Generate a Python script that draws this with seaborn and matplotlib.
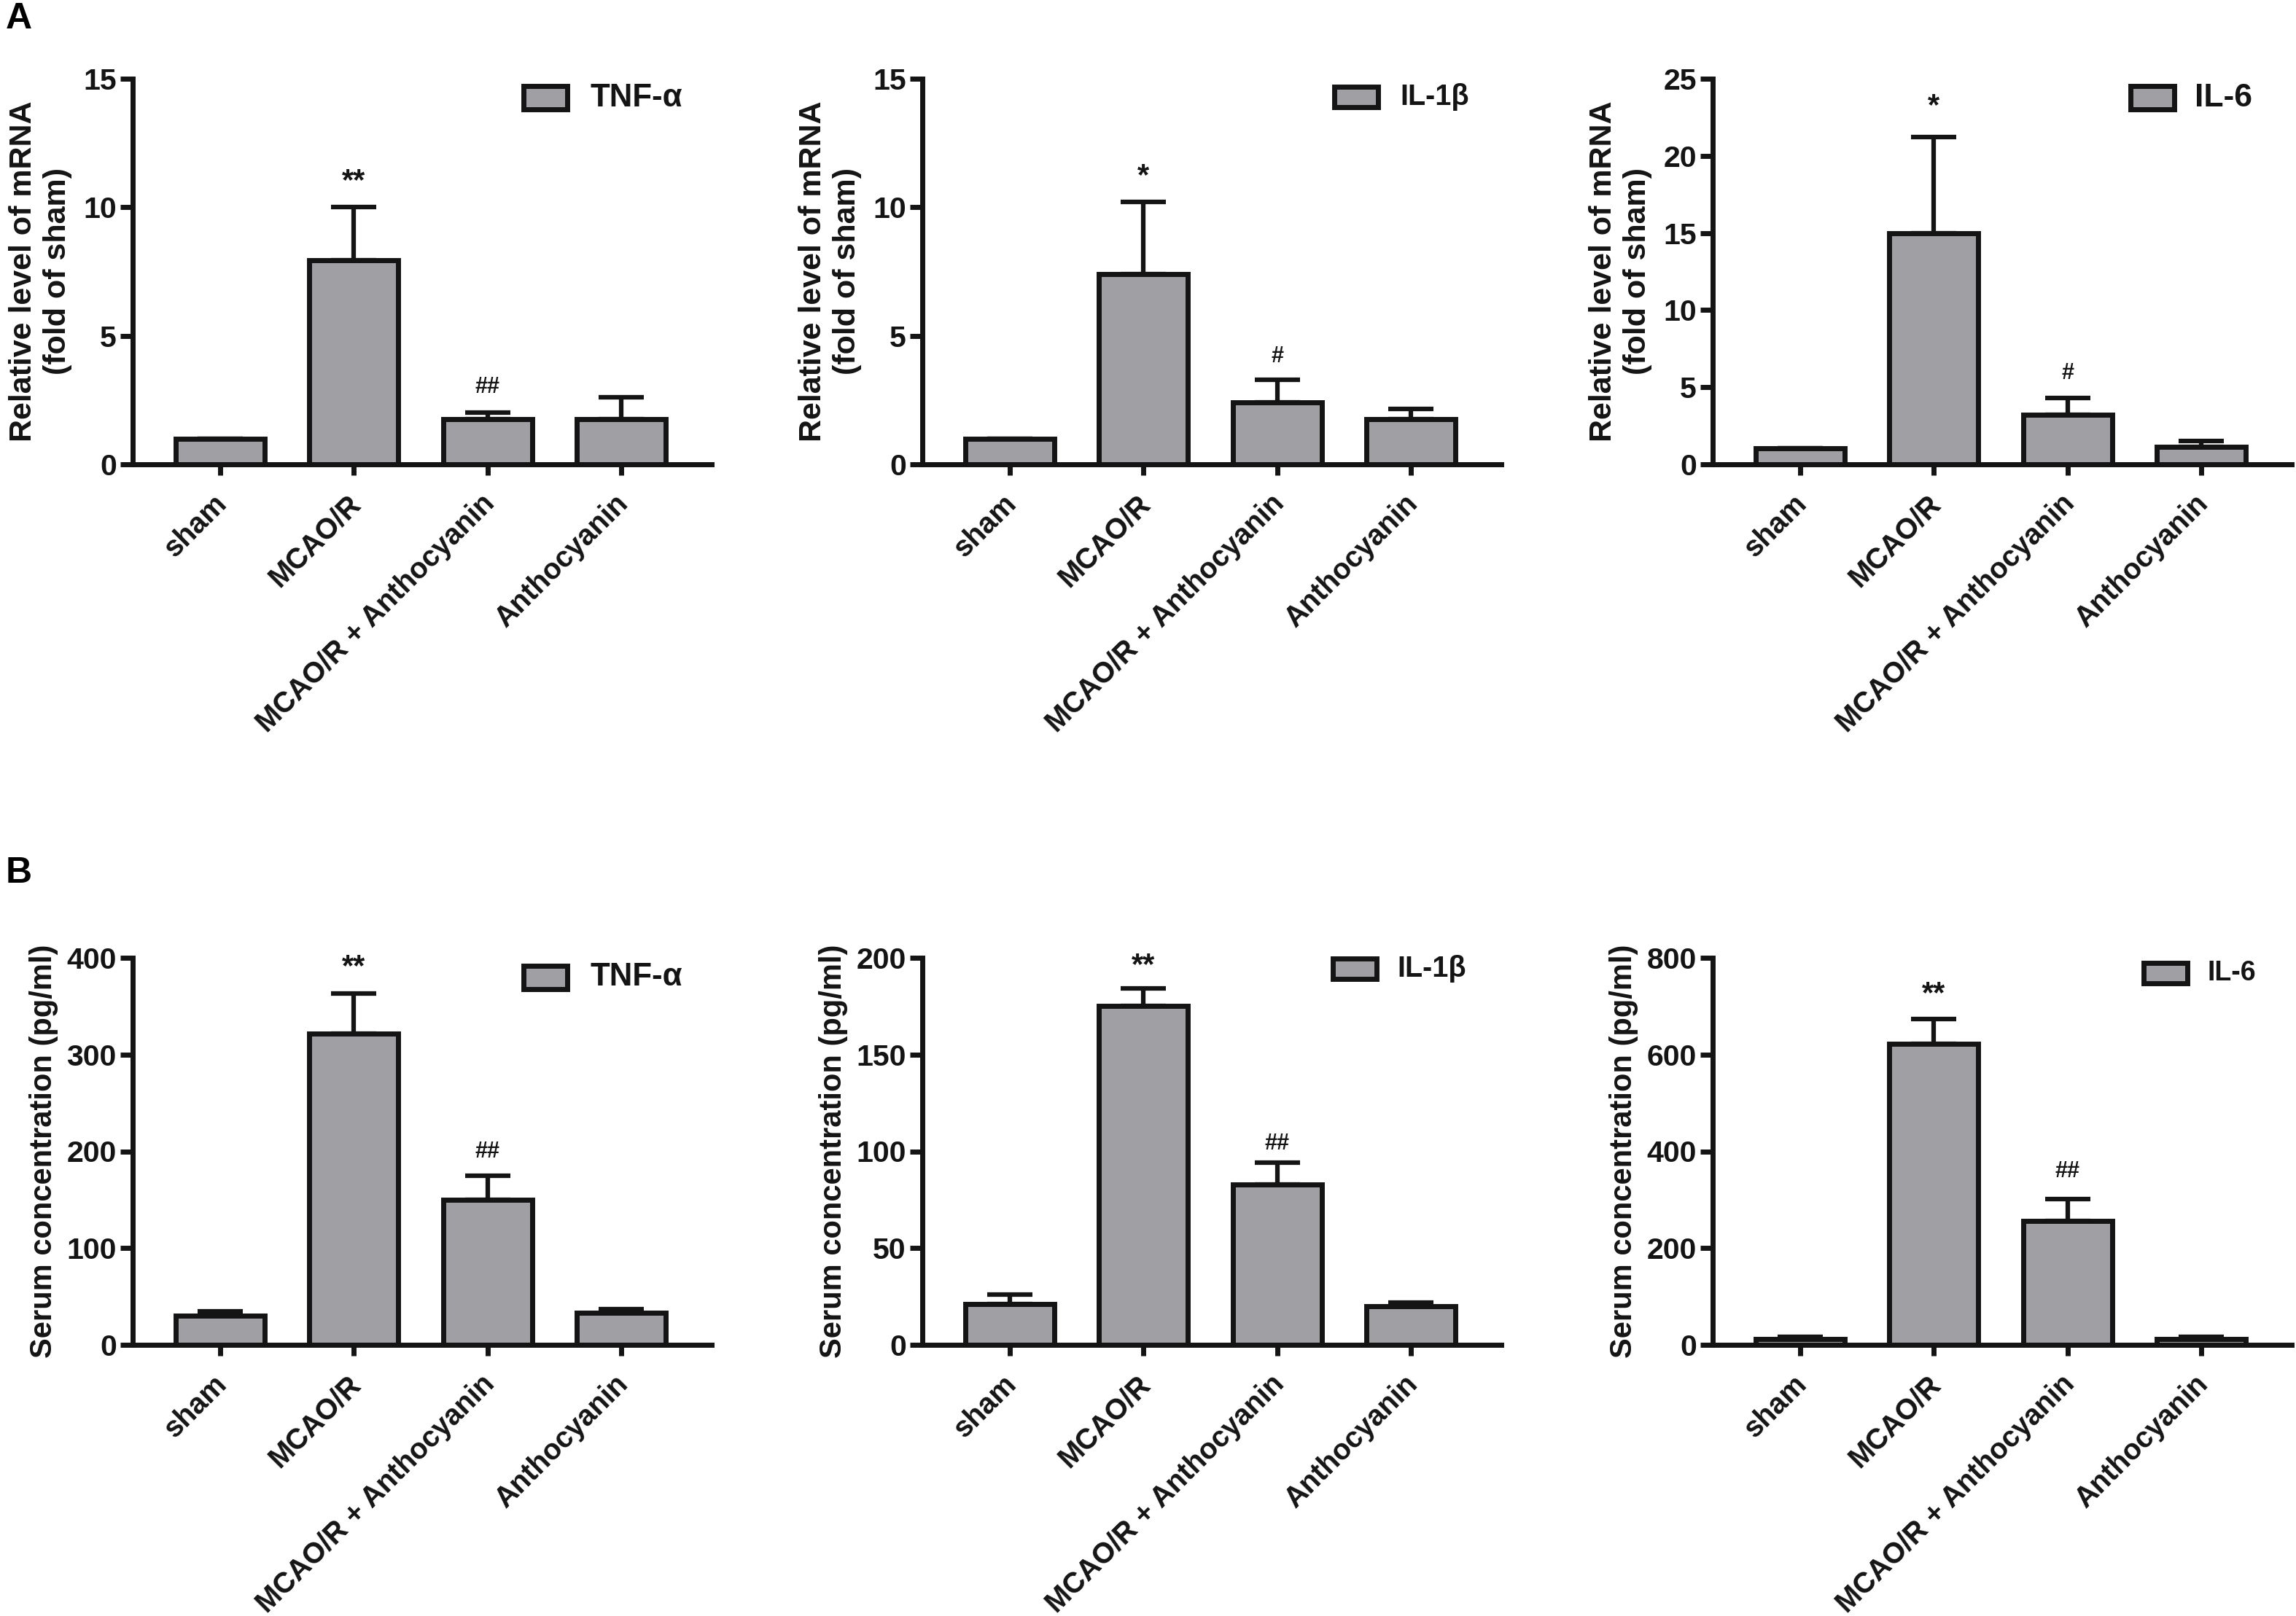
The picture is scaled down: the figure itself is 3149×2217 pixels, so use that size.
import matplotlib
matplotlib.use("Agg")
import matplotlib.pyplot as plt
from matplotlib.transforms import ScaledTranslation
import numpy as np
import pandas as pd
import seaborn as sns

sns.set_theme(style="ticks")
plt.rcParams['font.family'] = ['Liberation Sans', 'DejaVu Sans']
plt.rcParams['font.weight'] = 'bold'

W, H = 3149, 2217

groups = ["sham", "MCAO/R", "MCAO/R + Anthocyanin", "Anthocyanin"]

# values (mean, upper end of error bar)
a_tnf = [1.0, 7.95, 1.75, 1.75]
a_tnf_top = [1.0, 10.0, 2.0, 2.6]
a_il1 = [1.0, 7.4, 2.4, 1.75]
a_il1_top = [1.0, 10.2, 3.3, 2.15]
a_il6 = [1.05, 15.0, 3.2, 1.15]
a_il6_top = [1.05, 21.2, 4.3, 1.5]
b_tnf = [30, 322, 150, 33]
b_tnf_top = [35, 363, 175, 37]
b_il1 = [21, 175, 83, 20]
b_il1_top = [26, 184, 94, 22]
b_il6 = [12, 622, 256, 12]
b_il6_top = [17, 674, 302, 17]

fill = "#a0a0a4"
dark = "#141414"

ylabel_a = "Relative level of mRNA\n(fold of sham)"
ylabel_b = "Serum concentration (pg/ml)"

# vals, tops, ymax, yticks, ylabel, legend, legend font, axes x/top/bottom px,
# swatch left/top/bottom px, text left px, stars, hashes (label, y)
panels = [
    (a_tnf, a_tnf_top, 15, [0, 5, 10, 15], ylabel_a, "TNF-α", 31.5, 182, 108, 637, 718, 118, 150, 810, ("**", 11.0), ("##", 3.0)),
    (a_il1, a_il1_top, 15, [0, 5, 10, 15], ylabel_a, "IL-1β", 28.5, 1265, 108, 637, 1830, 119, 147, 1920, ("*", 11.2), ("#", 4.2)),
    (a_il6, a_il6_top, 25, [0, 5, 10, 15, 20, 25], ylabel_a, "IL-6", 32, 2349, 108, 637, 2922, 118, 150, 3010, ("*", 23.2), ("#", 5.9)),
    (b_tnf, b_tnf_top, 400, [0, 100, 200, 300, 400], ylabel_b, "TNF-α", 31.5, 182, 1314, 1845, 718, 1325, 1357, 810, ("**", 390), ("##", 200)),
    (b_il1, b_il1_top, 200, [0, 50, 100, 150, 200], ylabel_b, "IL-1β", 28.5, 1265, 1314, 1845, 1828, 1315, 1343, 1916, ("**", 196), ("##", 104)),
    (b_il6, b_il6_top, 800, [0, 200, 400, 600, 800], ylabel_b, "IL-6", 27, 2349, 1314, 1845, 2940, 1321, 1349, 3028, ("**", 725), ("##", 358)),
]

fig = plt.figure(figsize=(W / 100, H / 100), dpi=100, facecolor="white")

for vals, tops, ymax, yticks, ylabel, name, leg_fs, x0, y_top, y_bot, sw_x, sw_top, sw_bot, txt_x, stars, hashes in panels:
    ax = fig.add_axes([x0 / W, 1 - y_bot / H, 794 / W, (y_bot - y_top) / H])
    df = pd.DataFrame({"group": groups, "value": vals})
    sns.barplot(data=df, x="group", y="value", ax=ax, color=fill, saturation=1, width=0.665,
                edgecolor=dark, linewidth=5, errorbar=None, zorder=3)
    err = np.array(tops) - np.array(vals)
    ax.errorbar(range(4), vals, yerr=[np.zeros(4), err], fmt="none", ecolor=dark,
                elinewidth=4.5, capsize=22, capthick=4.5, zorder=2)
    ax.set_xlim(-0.655, 3.677)
    ax.set_ylim(0, ymax)
    ax.set_yticks(yticks)
    ax.set_xlabel("")
    two_lines = "\n" in ylabel
    ax.set_ylabel(ylabel, fontsize=31 if two_lines else 30, fontweight="bold", color=dark, linespacing=1.25)
    ax.yaxis.set_label_coords(-0.104 if two_lines else -0.128, 0.5)
    sns.despine(ax=ax)
    for side in ["left", "bottom"]:
        ax.spines[side].set_linewidth(5)
        ax.spines[side].set_color(dark)
        ax.spines[side].set_zorder(4)
    ax.tick_params(axis="y", length=12, width=5, labelsize=29.5, pad=4, color=dark, labelcolor=dark)
    ax.tick_params(axis="x", length=11, width=5, labelsize=28.5, pad=14, color=dark, labelcolor=dark)
    plt.setp(ax.get_xticklabels(), rotation=45, ha="right", rotation_mode="anchor", fontweight="bold")
    plt.setp(ax.get_yticklabels(), fontweight="bold")
    # nudge the slanted labels left of their ticks
    nudge = ScaledTranslation(-10 / 100, 0, fig.dpi_scale_trans)
    for lab in ax.get_xticklabels():
        lab.set_transform(lab.get_transform() + nudge)
    ax.text(1, stars[1], stars[0], ha="center", va="center", fontsize=30, color=dark)
    ax.text(2, hashes[1], hashes[0], ha="center", va="center", fontsize=22, color=dark)
    # legend swatch and name
    fig.patches.append(plt.Rectangle((sw_x / W, 1 - sw_bot / H), 60 / W, (sw_bot - sw_top) / H,
                                     transform=fig.transFigure, facecolor=fill, edgecolor=dark, linewidth=5))
    fig.text(txt_x / W, 1 - (sw_top + sw_bot) / 2 / H, name, fontsize=leg_fs, fontweight="bold",
             color=dark, va="center", ha="left")

fig.text(8 / W, 1 - 26 / H, "A", fontsize=36, fontweight="bold", color="black", va="center")
fig.text(8 / W, 1 - 1198 / H, "B", fontsize=36, fontweight="bold", color="black", va="center")

fig.savefig("out.png", dpi=100, facecolor="white")
